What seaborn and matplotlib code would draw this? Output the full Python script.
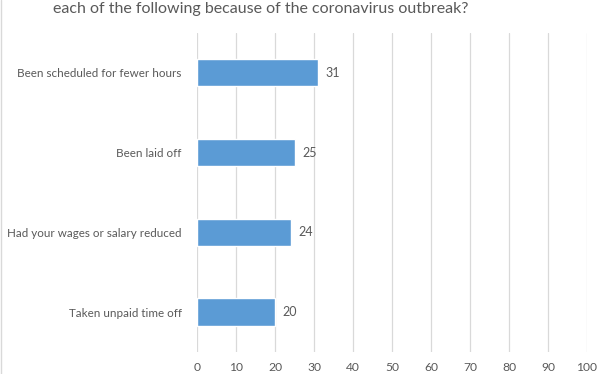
import pandas as pd
import seaborn as sns
import matplotlib.pyplot as plt
from matplotlib.lines import Line2D

# Data
categories = ["Been scheduled for fewer hours", "Been laid off",
              "Had your wages or salary reduced", "Taken unpaid time off"]
values = [31, 25, 24, 20]
x_ticks = [0, 10, 20, 30, 40, 50, 60, 70, 80, 90, 100]

df = pd.DataFrame({"Category": categories, "Value": values})

sns.set_style("white")
plt.rcParams['font.family'] = ['Lato', 'DejaVu Sans']

text_color = "#595959"
fig = plt.figure(figsize=(6.12, 3.74), dpi=100)
ax = fig.add_axes([0.322, 0.059, 0.637, 0.853])

sns.barplot(data=df, y="Category", x="Value", orient="h", color="#5B9BD5",
            width=0.34, saturation=1, ax=ax)

# value labels
for i, v in enumerate(values):
    ax.text(v + 2, i, str(v), va="center", ha="left", fontsize=9, color=text_color)

ax.set_xlim(0, 100)
ax.set_xticks(x_ticks)
ax.set_xlabel("")
ax.set_ylabel("")
ax.xaxis.grid(True, color="#D9D9D9", linewidth=0.9)
ax.set_axisbelow(True)
for s in ax.spines.values():
    s.set_visible(False)
ax.tick_params(axis="both", length=0, colors=text_color)
ax.tick_params(axis="x", labelsize=8.7, pad=7)
ax.tick_params(axis="y", labelsize=8.4, pad=11)

# title (first line is cut off in the original)
fig.text(261 / 612, 1 - 9 / 374, "each of the following because of the coronavirus outbreak?",
         ha="center", va="center", fontsize=11.5, color=text_color)

# chart border on the left edge
fig.add_artist(Line2D([0.002, 0.002], [0, 1], color="#D9D9D9", linewidth=1))

fig.savefig("out.png", dpi=100)
